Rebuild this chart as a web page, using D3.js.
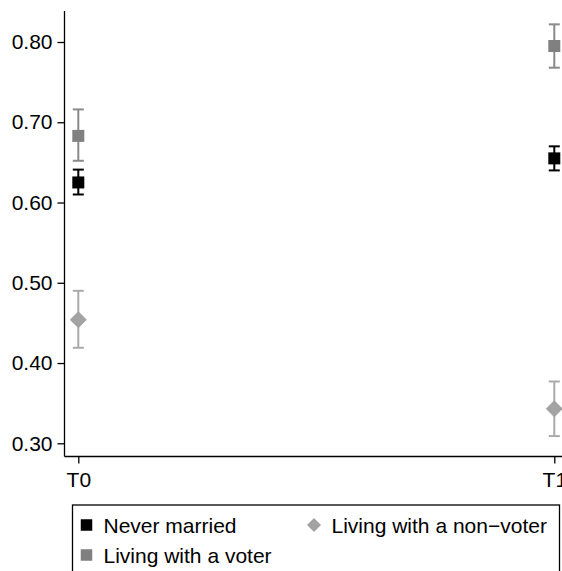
<!DOCTYPE html>
<html>
<head>
<meta charset="utf-8">
<script src="https://cdn.jsdelivr.net/npm/d3@7"></script>
<style>
  html, body { margin: 0; padding: 0; background: #fff; }
  svg { display: block; font-family: "Liberation Sans", Arial, Helvetica, sans-serif; }
</style>
</head>
<body>
<svg id="chart" width="562" height="571"></svg>
<script>
// Survey waves
const waves = ["T0", "T1"];
// Group labels
const groups = ["Never married", "Living with a voter", "Living with a non\u2212voter"];
// Point estimates per group, one value per wave
const neverMarried = [0.625, 0.655];
const withVoter = [0.683, 0.795];
const withNonVoter = [0.454, 0.343];
// 95% confidence bounds per group and wave
const neverMarriedLo = [0.610, 0.640];
const neverMarriedHi = [0.641, 0.670];
const withVoterLo = [0.652, 0.768];
const withVoterHi = [0.716, 0.822];
const withNonVoterLo = [0.419, 0.309];
const withNonVoterHi = [0.490, 0.377];
// Y axis tick values
const yTicks = [0.30, 0.40, 0.50, 0.60, 0.70, 0.80];

const series = [
  { name: groups[0], est: neverMarried, lo: neverMarriedLo, hi: neverMarriedHi, color: "#000000", bar: "#000000", shape: "square" },
  { name: groups[1], est: withVoter, lo: withVoterLo, hi: withVoterHi, color: "#808080", bar: "#8a8a8a", shape: "square" },
  { name: groups[2], est: withNonVoter, lo: withNonVoterLo, hi: withNonVoterHi, color: "#a3a3a3", bar: "#aaaaaa", shape: "diamond" }
];

const svg = d3.select("#chart");
const axisX = 64.5, axisTop = 11, axisBottom = 456.5;

const y = d3.scaleLinear().domain([0.30, 0.80]).range([443.3, 42]);
const x = d3.scalePoint().domain(waves).range([78.3, 554.3]);

const fontSize = 21;

// Y axis
const yAxis = svg.append("g").attr("transform", `translate(${axisX},0)`)
  .call(d3.axisLeft(y).tickValues(yTicks).tickFormat(d3.format(".2f")).tickSize(7).tickPadding(5));
yAxis.select(".domain").remove();
yAxis.selectAll(".tick line").attr("stroke", "#000").attr("stroke-width", 1.3);
yAxis.selectAll(".tick text").attr("font-size", fontSize).attr("font-family", null).attr("fill", "#000");
svg.append("line").attr("x1", axisX).attr("x2", axisX).attr("y1", axisTop).attr("y2", axisBottom)
  .attr("stroke", "#000").attr("stroke-width", 1.3);

// X axis
const xAxis = svg.append("g").attr("transform", `translate(0,${axisBottom})`)
  .call(d3.axisBottom(x).tickSize(7).tickPadding(9));
xAxis.select(".domain").remove();
xAxis.selectAll(".tick line").attr("stroke", "#000").attr("stroke-width", 1.3);
xAxis.selectAll(".tick text").attr("font-size", fontSize).attr("font-family", null).attr("fill", "#000");
svg.append("line").attr("x1", axisX).attr("x2", 562).attr("y1", axisBottom).attr("y2", axisBottom)
  .attr("stroke", "#000").attr("stroke-width", 1.3);

// Error bars and markers
const capHalf = 5.5;
const sq = 12, dia = 8.5;
function drawMarker(g, shape, cx, cy, color, s) {
  if (shape === "square") {
    g.append("rect").attr("x", cx - s / 2).attr("y", cy - s / 2).attr("width", s).attr("height", s).attr("fill", color);
  } else {
    g.append("path").attr("d", `M${cx},${cy - s}L${cx + s},${cy}L${cx},${cy + s}L${cx - s},${cy}Z`).attr("fill", color);
  }
}

series.forEach(s => {
  const g = svg.append("g");
  waves.forEach((w, i) => {
    const cx = x(w);
    g.append("line").attr("x1", cx).attr("x2", cx).attr("y1", y(s.lo[i])).attr("y2", y(s.hi[i]))
      .attr("stroke", s.bar).attr("stroke-width", 2);
    [s.lo[i], s.hi[i]].forEach(v => {
      g.append("line").attr("x1", cx - capHalf).attr("x2", cx + capHalf).attr("y1", y(v)).attr("y2", y(v))
        .attr("stroke", s.bar).attr("stroke-width", 2);
    });
    drawMarker(g, s.shape, cx, y(s.est[i]), s.color, s.shape === "square" ? sq : dia);
  });
});

// Legend
const legend = svg.append("g");
legend.append("rect").attr("x", 72.5).attr("y", 505).attr("width", 487).attr("height", 80)
  .attr("fill", "none").attr("stroke", "#000").attr("stroke-width", 1.3);
const legendPos = [
  { mx: 86.5, my: 525, tx: 103.5 },
  { mx: 86.5, my: 555, tx: 103.5 },
  { mx: 314, my: 525, tx: 331.5 }
];
series.forEach((s, i) => {
  const p = legendPos[i];
  drawMarker(legend, s.shape, p.mx, p.my, s.color, s.shape === "square" ? 11.5 : 7);
  legend.append("text").attr("x", p.tx).attr("y", p.my + 7.5).attr("font-size", fontSize).attr("fill", "#000").text(s.name);
});
</script>
</body>
</html>
